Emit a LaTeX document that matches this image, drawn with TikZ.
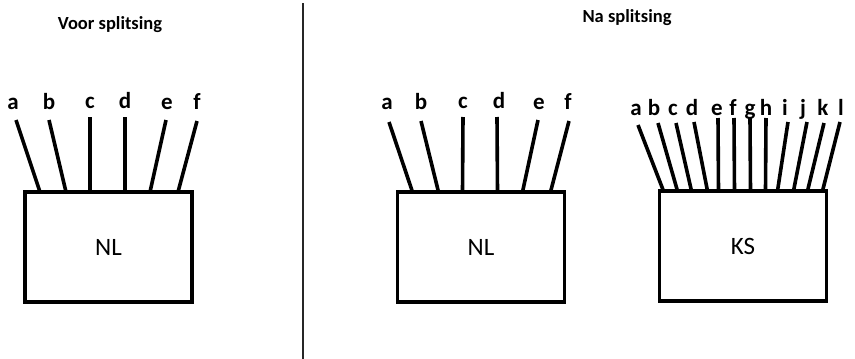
\documentclass[tikz,border=0pt]{standalone}
\usepackage{fontspec}
\setmainfont{Carlito}
\usepackage{tikz}
\usetikzlibrary{positioning}
\tikzset{wire/.style={line width=3.6pt}}

\begin{document}
\begin{tikzpicture}[x=1pt, y=-1pt, box/.style={draw, line width=3.4pt, outer sep=0pt, minimum width=167pt, minimum height=110pt, font=\fontsize{25}{25}\selectfont}, lbl/.style={font=\bfseries\fontsize{23}{23}\selectfont, text height=11pt, text depth=0pt, inner sep=0pt}, title/.style={font=\bfseries\fontsize{18.5}{18.5}\selectfont}]
\useasboundingbox (0,0) rectangle (855,359);
\node[title] (voor) at (110,25) {Voor splitsing};
\node[title] (na) at (627,18) {Na splitsing};
\coordinate (divtop) at (303,3);
\coordinate (divbot) at (303,359);
\draw[line width=1.4pt, black!85] (divtop) -- (divbot);
% voor splitsing
\node[box] (nl1) at (108.5,247) {NL};
\coordinate (w1a) at (16,120); \node[lbl] (l1a) at (13,103.5) {a}; \draw[wire] (nl1.north west) ++(15,0) -- (w1a);
\coordinate (w1b) at (49,120); \node[lbl] (l1b) at (49,103.5) {b}; \draw[wire] (nl1.north west) ++(41,0) -- (w1b);
\coordinate (w1c) at (90,117); \node[lbl] (l1c) at (90,102.5) {c}; \draw[wire] (nl1.north west) ++(65,0) -- (w1c);
\coordinate (w1d) at (125,117); \node[lbl] (l1d) at (125,102.5) {d}; \draw[wire] (nl1.north west) ++(100,0) -- (w1d);
\coordinate (w1e) at (166,120); \node[lbl] (l1e) at (167,103.5) {e}; \draw[wire] (nl1.north west) ++(125,0) -- (w1e);
\coordinate (w1f) at (197,121); \node[lbl] (l1f) at (197,103.5) {f}; \draw[wire] (nl1.north west) ++(153,0) -- (w1f);
% na splitsing
\node[box] (nl2) at (481,247) {NL};
\coordinate (w2a) at (389,122); \node[lbl] (l2a) at (387,104) {a}; \draw[wire] (nl2.north west) ++(15,0) -- (w2a);
\coordinate (w2b) at (421,121); \node[lbl] (l2b) at (421,104) {b}; \draw[wire] (nl2.north west) ++(41,0) -- (w2b);
\coordinate (w2c) at (463,117); \node[lbl] (l2c) at (463,103) {c}; \draw[wire] (nl2.north west) ++(65,0) -- (w2c);
\coordinate (w2d) at (497,117); \node[lbl] (l2d) at (499,103) {d}; \draw[wire] (nl2.north west) ++(100,0) -- (w2d);
\coordinate (w2e) at (538,120); \node[lbl] (l2e) at (539,104) {e}; \draw[wire] (nl2.north west) ++(125,0) -- (w2e);
\coordinate (w2f) at (569,121); \node[lbl] (l2f) at (568,104) {f}; \draw[wire] (nl2.north west) ++(153,0) -- (w2f);
\node[box] (ks) at (743,246) {KS};
\coordinate (w3a) at (638,125); \node[lbl] (l3a) at (636,109.5) {a}; \draw[wire] (ks.north west) ++(4,0) -- (w3a);
\coordinate (w3b) at (658,123); \node[lbl] (l3b) at (654,109.5) {b}; \draw[wire] (ks.north west) ++(18,0) -- (w3b);
\coordinate (w3c) at (676,123); \node[lbl] (l3c) at (673,109.5) {c}; \draw[wire] (ks.north west) ++(32,0) -- (w3c);
\coordinate (w3d) at (694,122); \node[lbl] (l3d) at (692,109.5) {d}; \draw[wire] (ks.north west) ++(48,0) -- (w3d);
\coordinate (w3e) at (718,118); \node[lbl] (l3e) at (717,109.5) {e}; \draw[wire] (ks.north west) ++(59,0) -- (w3e);
\coordinate (w3f) at (734,118); \node[lbl] (l3f) at (733,109.5) {f}; \draw[wire] (ks.north west) ++(75,0) -- (w3f);
\coordinate (w3g) at (750,118); \node[lbl] (l3g) at (750,109.5) {g}; \draw[wire] (ks.north west) ++(91,0) -- (w3g);
\coordinate (w3h) at (766,118); \node[lbl] (l3h) at (766,109.5) {h}; \draw[wire] (ks.north west) ++(106,0) -- (w3h);
\coordinate (w3i) at (788,122); \node[lbl] (l3i) at (785,109.5) {i}; \draw[wire] (ks.north west) ++(118,0) -- (w3i);
\coordinate (w3j) at (807,122); \node[lbl] (l3j) at (803,109.5) {j}; \draw[wire] (ks.north west) ++(134,0) -- (w3j);
\coordinate (w3k) at (824,123); \node[lbl] (l3k) at (823,109.5) {k}; \draw[wire] (ks.north west) ++(148,0) -- (w3k);
\coordinate (w3l) at (840,122); \node[lbl] (l3l) at (841,109.5) {l}; \draw[wire] (ks.north west) ++(163,0) -- (w3l);
\end{tikzpicture}
\end{document}
